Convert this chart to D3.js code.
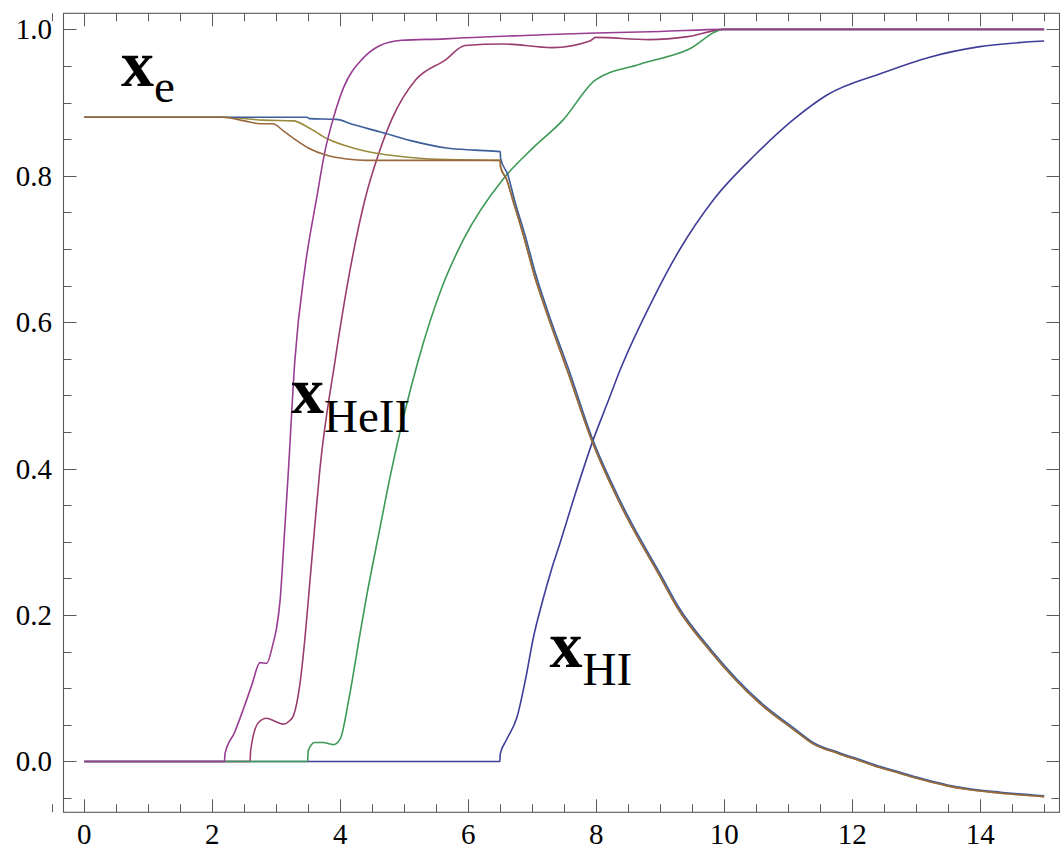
<!DOCTYPE html>
<html>
<head>
<meta charset="utf-8">
<script src="https://cdn.jsdelivr.net/npm/d3@7"></script>
<style>
  body { margin: 0; background: #fff; }
  svg { display: block; }
  .frame { fill: none; stroke: #5a5a5a; stroke-width: 1.1; }
  .tick { stroke: #5a5a5a; stroke-width: 1; }
  .ticklabel { font-family: "Liberation Serif", "Times New Roman", serif; font-size: 29px; fill: #000; }
  .curve { fill: none; stroke-width: 1.6; stroke-linejoin: round; }
  .label { font-family: "Liberation Serif", "Times New Roman", serif; fill: #000; }
</style>
</head>
<body>
<svg id="chart" width="1060" height="849"></svg>
<script>
// tick values
var xMajor = [0, 2, 4, 6, 8, 10, 12, 14];
var xMinor = [-0.5, 0.5, 1, 1.5, 2.5, 3, 3.5, 4.5, 5, 5.5, 6.5, 7, 7.5, 8.5, 9, 9.5, 10.5, 11, 11.5, 12.5, 13, 13.5, 14.5, 15];
var yMajor = [0, 0.2, 0.4, 0.6, 0.8, 1.0];
var yMinor = [-0.05, 0.05, 0.1, 0.15, 0.25, 0.3, 0.35, 0.45, 0.5, 0.55, 0.65, 0.7, 0.75, 0.85, 0.9, 0.95];

// series, [x, y] (x strictly increasing)
var hiCurve = [[0,0],[6.495,0],[6.5,0.01],[6.6,0.03],[6.76,0.06],[6.89,0.11],[7.02,0.17],[7.17,0.222],
  [7.3,0.262],[7.43,0.297],[7.64,0.3565],[7.95,0.4386],[8.19,0.493],[8.37,0.534],[8.89,0.632],[9.31,0.7],
  [9.83,0.767],[10.5,0.83],[11.1,0.878],[11.6,0.91],[12.46,0.94],[13.21,0.962],[13.97,0.976],[15,0.984]];

var heiiLate = [[0,0],[2.59,0],[2.6,0.015],[2.72,0.053],[2.85,0.059],[2.98,0.055],[3.11,0.051],[3.2,0.055],
  [3.27,0.063],[3.37,0.106],[3.45,0.17],[3.52,0.24],[3.6,0.32],[3.68,0.3975],[3.92,0.548],[4.15,0.67],
  [4.39,0.769],[4.6,0.83],[4.81,0.878],[5.18,0.931],[5.64,0.958],[5.95,0.978],[6.55,0.98],[7.31,0.975],
  [7.9,0.984],[7.99,0.989],[8.82,0.986],[9.43,0.99],[10,1.0],[15,1.0]];

var xeOlive = [[0,0.88],[2.17,0.88],[2.8,0.876],[3.27,0.875],[3.5,0.866],[3.79,0.851],[4.2,0.838],
  [4.62,0.83],[5.1,0.825],[5.66,0.822],[6.5,0.821],[6.505,0.812],[6.6,0.795],[6.7,0.766],[6.89,0.71],
  [7.02,0.668],[7.23,0.612],[7.54,0.536],[7.93,0.4386],[8.3,0.365],[8.47,0.335],[9.0,0.252],[9.26,0.211],
  [9.78,0.151],[10.56,0.079],[11.08,0.044],[11.39,0.024],[11.78,0.011],[12.12,0.001],[12.42,-0.008],
  [12.74,-0.016],[13.1,-0.025],[13.47,-0.033],[13.79,-0.038],[14.3,-0.043],[15,-0.048]];

var heiiMid = [[0,0],[3.49,0],[3.5,0.015],[3.6,0.026],[3.73,0.026],[3.89,0.023],[4.0,0.031],[4.13,0.083],
  [4.31,0.175],[4.4,0.22],[4.6,0.31],[4.8,0.3975],[5.22,0.548],[5.6,0.65],[5.92,0.712],[6.55,0.796],
  [7.0,0.837],[7.48,0.876],[7.99,0.931],[8.67,0.952],[9.43,0.972],[10,1.0],[15,1.0]];

var xeBlue = [[0,0.88],[3.48,0.88],[3.52,0.878],[3.94,0.877],[4.2,0.87],[4.62,0.86],[5.1,0.848],
  [5.66,0.838],[6.1,0.835],[6.5,0.833],[6.505,0.824],[6.62,0.801],[6.72,0.768],[6.91,0.712],[7.04,0.67],
  [7.25,0.613],[7.56,0.538],[7.95,0.4386],[8.32,0.366],[8.49,0.336],[9.02,0.253],[9.28,0.212],
  [9.8,0.152],[10.58,0.08],[11.1,0.045],[11.41,0.025],[11.8,0.012],[12.14,0.002],[12.44,-0.007],
  [12.76,-0.015],[13.12,-0.024],[13.49,-0.032],[13.81,-0.037],[14.32,-0.042],[15,-0.047]];

var heiiEarly = [[0,0],[2.19,0],[2.2,0.011],[2.35,0.04],[2.5,0.075],[2.62,0.105],[2.745,0.135],[2.85,0.134],
  [2.95,0.161],[3.0,0.18],[3.06,0.22],[3.12,0.3],[3.19,0.3975],[3.29,0.547],[3.45,0.675],[3.63,0.769],
  [3.76,0.833],[3.89,0.878],[4.05,0.92],[4.35,0.96],[4.6,0.977],[4.96,0.985],[5.64,0.987],[5.95,0.9885],
  [7,0.992],[8,0.995],[9,0.997],[10,1.0],[15,1.0]];

var xeBrown = [[0,0.88],[2.17,0.88],[2.5,0.875],[2.75,0.871],[2.95,0.871],[3.1,0.862],[3.27,0.851],
  [3.5,0.838],[3.79,0.828],[4.1,0.823],[4.41,0.821],[6.5,0.821],[6.505,0.812],[6.6,0.795],[6.7,0.766],
  [6.89,0.71],[7.02,0.668],[7.23,0.612],[7.54,0.536],[7.93,0.4386],[8.3,0.365],[8.47,0.335],[9.0,0.252],
  [9.26,0.211],[9.78,0.151],[10.56,0.079],[11.08,0.044],[11.39,0.024],[11.78,0.011],[12.12,0.001],
  [12.42,-0.008],[12.74,-0.016],[13.1,-0.025],[13.47,-0.033],[13.79,-0.038],[14.3,-0.043],[15,-0.048]];

// draw order matters: later ones sit on top
var seriesList = [hiCurve, heiiLate, xeOlive, heiiMid, xeBlue, heiiEarly, xeBrown];
var seriesColors = ["#3f3d99", "#993d71", "#998b3d", "#3d9954", "#3d5d99", "#993d93", "#99683d"];

var frameL = 63.5, frameR = 1059.5, frameT = 13.3, frameB = 812.3;

var x = d3.scaleLinear().domain([-0.325, 15.24]).range([frameL, frameR]);
var y = d3.scaleLinear().domain([-0.0694, 1.0219]).range([frameB, frameT]);

var svg = d3.select("#chart");

var line = d3.line()
  .x(function(d) { return x(d[0]); })
  .y(function(d) { return y(d[1]); })
  .curve(d3.curveMonotoneX);

svg.append("clipPath").attr("id", "clip")
  .append("rect").attr("x", frameL).attr("y", frameT).attr("width", frameR - frameL).attr("height", frameB - frameT);

var curves = svg.append("g").attr("clip-path", "url(#clip)");
seriesList.forEach(function(s, i) {
  curves.append("path")
    .datum(s)
    .attr("class", "curve")
    .attr("stroke", seriesColors[i])
    .attr("d", line);
});

// frame
svg.append("rect").attr("class", "frame")
  .attr("x", frameL).attr("y", frameT).attr("width", frameR - frameL).attr("height", frameB - frameT);

var ticks = svg.append("g");
var MAJ = 13, MIN = 8;

function xTick(v, len) {
  var px = Math.round(x(v)) + 0.5;
  ticks.append("line").attr("class", "tick").attr("x1", px).attr("x2", px).attr("y1", frameB).attr("y2", frameB - len);
  ticks.append("line").attr("class", "tick").attr("x1", px).attr("x2", px).attr("y1", frameT).attr("y2", frameT + len);
}
function yTick(v, len) {
  var py = Math.round(y(v)) + 0.5;
  ticks.append("line").attr("class", "tick").attr("x1", frameL).attr("x2", frameL + len).attr("y1", py).attr("y2", py);
  ticks.append("line").attr("class", "tick").attr("x1", frameR).attr("x2", frameR - len).attr("y1", py).attr("y2", py);
}
xMajor.forEach(function(v) { xTick(v, MAJ); });
xMinor.forEach(function(v) { xTick(v, MIN); });
yMajor.forEach(function(v) { yTick(v, MAJ); });
yMinor.forEach(function(v) { yTick(v, MIN); });

svg.selectAll(".xl").data(xMajor).enter().append("text")
  .attr("class", "ticklabel")
  .attr("x", function(d) { return x(d); })
  .attr("y", 844)
  .attr("text-anchor", "middle")
  .text(function(d) { return d; });

svg.selectAll(".yl").data(yMajor).enter().append("text")
  .attr("class", "ticklabel")
  .attr("x", 52)
  .attr("y", function(d) { return y(d) + 10; })
  .attr("text-anchor", "end")
  .text(function(d) { return d3.format(".1f")(d); });

// curve labels
var labels = [
  { main: "x", sub: "e", x: 121, y: 86, dy: 16 },
  { main: "x", sub: "HeII", x: 291, y: 413, dy: 18.5 },
  { main: "x", sub: "HI", x: 549.5, y: 667, dy: 18 }
];
labels.forEach(function(l) {
  var t = svg.append("text").attr("class", "label").attr("x", l.x).attr("y", l.y);
  t.append("tspan").attr("font-size", 66).attr("font-weight", "bold").text(l.main);
  t.append("tspan").attr("font-size", 47).attr("dy", l.dy).text(l.sub);
});
</script>
</body>
</html>
